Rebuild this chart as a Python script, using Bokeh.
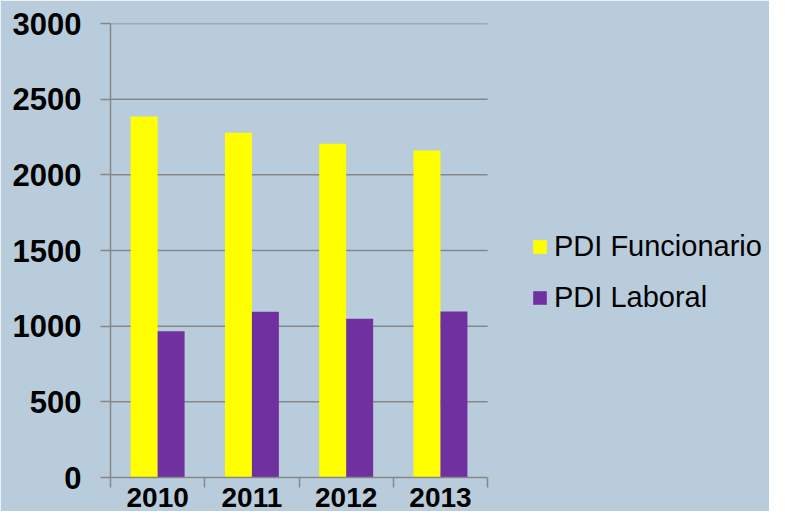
from bokeh.plotting import figure
from bokeh.models import Range1d, FixedTicker, Legend, LegendItem, ColumnDataSource
from bokeh.embed import file_html
from bokeh.resources import INLINE

years = ["2010", "2011", "2012", "2013"]
funcionario = [2385, 2278, 2205, 2161]
laboral = [967, 1095, 1049, 1097]
y_ticks = [0, 500, 1000, 1500, 2000, 2500, 3000]

BAR_W = 0.286
OFF = 0.143
N = len(years)
centers = [i + 0.5 for i in range(N)]
src = ColumnDataSource(dict(
    xf=[c - OFF for c in centers],
    xl=[c + OFF for c in centers],
    f=funcionario,
    l=laboral,
))
grid_src = ColumnDataSource(dict(y=y_ticks[1:], x0=[0] * (len(y_ticks) - 1),
                                 x1=[N] * (len(y_ticks) - 1)))

BG = "#b9ccdb"
GRID = "#878787"
FONT = "Liberation Sans"

# frame spans to the right edge so that the legend can live inside it;
# the category part of the x range is 0..N
p = figure(width=769, height=511, output_backend="svg", toolbar_location=None,
           x_range=Range1d(0, 6.99), y_range=Range1d(0, 3000),
           min_border_left=110, min_border_right=0, min_border_top=23,
           min_border_bottom=34)
p.background_fill_color = BG
p.border_fill_color = BG
p.outline_line_color = BG
p.outline_line_width = 2
p.xgrid.visible = False
p.ygrid.visible = False

# horizontal grid lines limited to the category area
p.segment(x0="x0", x1="x1", y0="y", y1="y", source=grid_src,
          line_color=GRID, line_width=1.5)

r1 = p.vbar(x="xf", top="f", width=BAR_W, bottom=0, source=src,
            fill_color="#ffff00", line_color=None)
r2 = p.vbar(x="xl", top="l", width=BAR_W, bottom=0, source=src,
            fill_color="#7030a0", line_color=None)

# y axis
p.yaxis.ticker = FixedTicker(ticks=y_ticks)
p.yaxis.axis_line_color = GRID
p.yaxis.axis_line_width = 1.5
p.yaxis.major_tick_line_color = GRID
p.yaxis.major_tick_line_width = 1.5
p.yaxis.major_tick_out = 10
p.yaxis.major_tick_in = 0
p.yaxis.minor_tick_line_color = None
p.yaxis.major_label_standoff = 19
p.yaxis.major_label_text_font = FONT
p.yaxis.major_label_text_font_size = "31px"
p.yaxis.major_label_text_font_style = "bold"
p.yaxis.major_label_text_color = "#000000"

# x axis: labels at category centres, ticks at category boundaries
p.xaxis.bounds = (0, N)
p.xaxis.ticker = FixedTicker(ticks=centers, minor_ticks=list(range(N + 1)))
p.xaxis.major_label_overrides = {c: y for c, y in zip(centers, years)}
p.xaxis.axis_line_color = GRID
p.xaxis.axis_line_width = 1.5
p.xaxis.major_tick_line_color = None
p.xaxis.major_tick_out = 0
p.xaxis.major_tick_in = 0
p.xaxis.minor_tick_line_color = GRID
p.xaxis.minor_tick_line_width = 1.5
p.xaxis.minor_tick_out = 10
p.xaxis.minor_tick_in = 0
p.xaxis.major_label_standoff = 0
p.xaxis.major_label_text_font = FONT
p.xaxis.major_label_text_font_size = "28px"
p.xaxis.major_label_text_font_style = "bold"
p.xaxis.major_label_text_color = "#000000"

legend = Legend(items=[LegendItem(label="PDI Funcionario", renderers=[r1]),
                       LegendItem(label="PDI Laboral", renderers=[r2])],
                location=(421, 163))
legend.label_text_font = FONT
legend.label_text_font_size = "29px"
legend.label_text_color = "#000000"
legend.glyph_width = 17
legend.glyph_height = 17
legend.label_height = 34
legend.label_standoff = 6
legend.spacing = 17
legend.padding = 0
legend.margin = 0
legend.border_line_color = None
legend.background_fill_alpha = 0
p.add_layout(legend)

open("out.html", "w").write(file_html(p, INLINE))
